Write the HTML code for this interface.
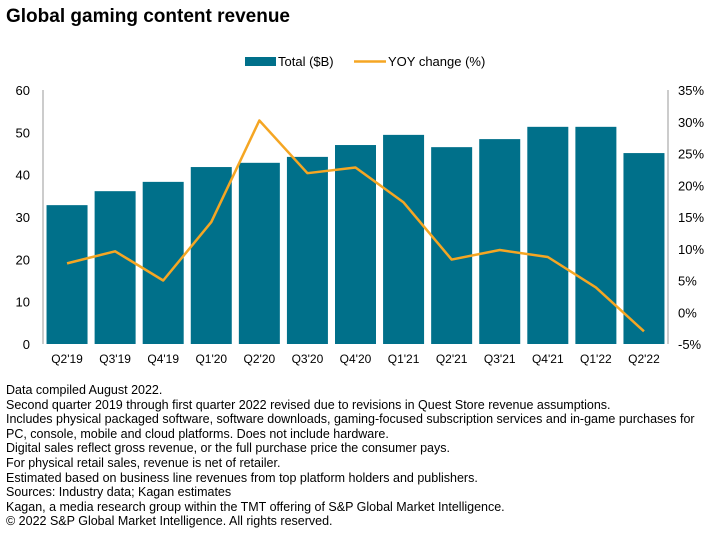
<!DOCTYPE html>
<html><head><meta charset="utf-8"><style>
body{margin:0;background:#fff;width:720px;height:543px;overflow:hidden;font-family:"Liberation Sans",sans-serif;}
#title{position:absolute;left:6px;top:6px;font-size:19px;font-weight:bold;color:#000;}
#notes{position:absolute;left:6px;top:383px;font-size:12.5px;line-height:14.6px;color:#000;white-space:nowrap;}
</style></head><body>
<div id="title">Global gaming content revenue</div>
<svg id="chart" width="720" height="380" style="position:absolute;left:0;top:0"></svg>
<div id="notes">Data compiled August 2022.<br>Second quarter 2019 through first quarter 2022 revised due to revisions in Quest Store revenue assumptions.<br>Includes physical packaged software, software downloads, gaming-focused subscription services and in-game purchases for<br>PC, console, mobile and cloud platforms. Does not include hardware.<br>Digital sales reflect gross revenue, or the full purchase price the consumer pays.<br>For physical retail sales, revenue is net of retailer.<br>Estimated based on business line revenues from top platform holders and publishers.<br>Sources: Industry data; Kagan estimates<br>Kagan, a media research group within the TMT offering of S&amp;P Global Market Intelligence.<br>© 2022 S&amp;P Global Market Intelligence. All rights reserved.</div>
<script>
const categories=["Q2'19","Q3'19","Q4'19","Q1'20","Q2'20","Q3'20","Q4'20","Q1'21","Q2'21","Q3'21","Q4'21","Q1'22","Q2'22"];
const totals=[32.8,36.1,38.3,41.8,42.8,44.2,47.0,49.4,46.5,48.4,51.3,51.3,45.1];
const yoy=[7.7,9.6,5.0,14.2,30.2,21.9,22.8,17.3,8.3,9.8,8.7,3.9,-3.0];
const leftTicks=[0,10,20,30,40,50,60];
const rightTicks=[-5,0,5,10,15,20,25,30,35];
const svg=document.getElementById('chart');const NS='http://www.w3.org/2000/svg';
function mk(t,a,txt){const e=document.createElementNS(NS,t);for(const k in a)e.setAttribute(k,a[k]);if(txt!=null)e.textContent=txt;svg.appendChild(e);return e;}
const x0=43,x1=668,yTop=90,yBot=344;
const yL=v=>yBot-(v/60)*(yBot-yTop);
const yR=v=>yBot-((v+5)/40)*(yBot-yTop);
const step=(x1-x0)/categories.length;
const xc=i=>x0+step*(i+0.5);
let e;
e=mk('line',{x1:x0,x2:x0,y1:yTop,y2:yBot,stroke:'#999','stroke-width':1});

e=mk('line',{x1:x1,x2:x1,y1:yTop,y2:yBot,stroke:'#999','stroke-width':1});

leftTicks.forEach(t=>{e=mk('text',{x:30,y:yL(t)+5,'text-anchor':'end','font-size':13,fill:'#000'},t);
});
rightTicks.forEach(t=>{e=mk('text',{x:678,y:yR(t)+5,'font-size':13,fill:'#000'},t+'%');
});
totals.forEach((v,i)=>{e=mk('rect',{x:xc(i)-20.5,y:yL(v),width:41,height:yBot-yL(v),fill:'#00708a'});
});
categories.forEach((c,i)=>{e=mk('text',{x:xc(i),y:363,'text-anchor':'middle','font-size':12,fill:'#000'},c);
});
e=mk('polyline',{points:yoy.map((v,i)=>xc(i)+','+yR(v)).join(' '),fill:'none',stroke:'#f5a623','stroke-width':2.5,'stroke-linejoin':'round'});

e=mk('rect',{x:245,y:57,width:31,height:9,fill:'#00708a'});

e=mk('text',{x:278,y:66,'font-size':13,fill:'#000'},'Total ($B)');

e=mk('line',{x1:354,x2:386,y1:61.5,y2:61.5,stroke:'#f5a623','stroke-width':2.5});

e=mk('text',{x:388,y:66,'font-size':13,fill:'#000'},'YOY change (%)');

</script>
</body></html>
